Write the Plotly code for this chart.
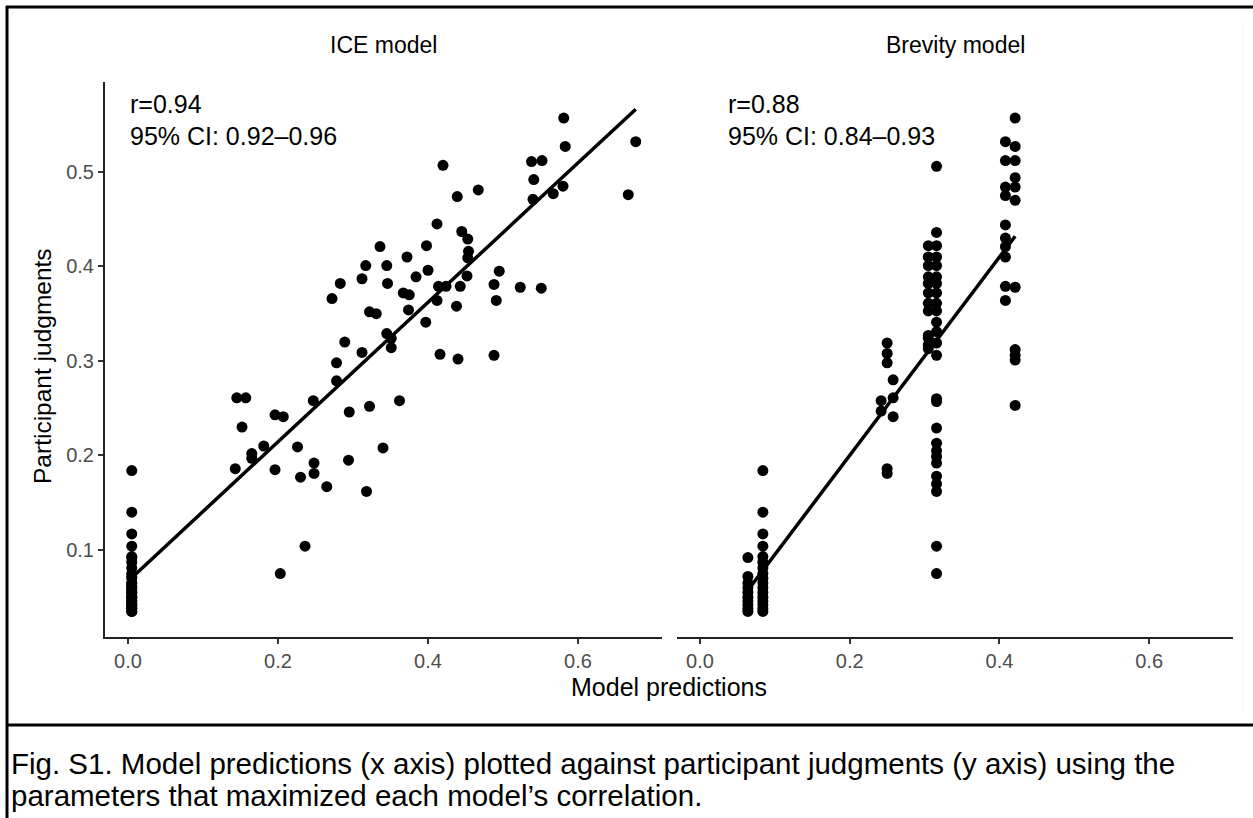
import numpy as np
import plotly.graph_objects as go

# ---------------- data ----------------
# ICE model panel: model predictions (x) and participant judgments (y)
ice_zero_y = [0.184, 0.140, 0.117, 0.104, 0.093, 0.092, 0.087, 0.081, 0.075, 0.072,
              0.070, 0.065, 0.065, 0.062, 0.060, 0.060, 0.057, 0.055, 0.055, 0.052,
              0.050, 0.050, 0.048, 0.046, 0.046, 0.044, 0.042, 0.042, 0.040, 0.038,
              0.038, 0.035, 0.035]
ice_rest_x = [
    0.143, 0.145, 0.157, 0.152, 0.165, 0.165, 0.181, 0.196, 0.196, 0.207,
    0.203, 0.226, 0.230, 0.236, 0.247, 0.248, 0.248, 0.265, 0.278, 0.278,
    0.289, 0.295, 0.294, 0.312, 0.322, 0.318, 0.340, 0.345, 0.351, 0.351,
    0.362, 0.416, 0.440, 0.488, 0.581, 0.677, 0.583, 0.538, 0.552, 0.541,
    0.580, 0.567, 0.540, 0.667, 0.420, 0.439, 0.467, 0.412, 0.445, 0.453,
    0.454, 0.453, 0.452, 0.398, 0.372, 0.345, 0.336, 0.400, 0.384, 0.346,
    0.367, 0.375, 0.414, 0.424, 0.443, 0.412, 0.374, 0.438, 0.397, 0.488,
    0.495, 0.523, 0.551, 0.491, 0.317, 0.283, 0.312, 0.272, 0.322, 0.331,
]
ice_rest_y = [
    0.186, 0.261, 0.261, 0.230, 0.202, 0.197, 0.210, 0.185, 0.243, 0.241,
    0.075, 0.209, 0.177, 0.104, 0.258, 0.192, 0.181, 0.167, 0.298, 0.279,
    0.320, 0.246, 0.195, 0.309, 0.252, 0.162, 0.208, 0.329, 0.324, 0.314,
    0.258, 0.307, 0.302, 0.306, 0.557, 0.532, 0.527, 0.511, 0.512, 0.492,
    0.485, 0.477, 0.471, 0.476, 0.507, 0.474, 0.481, 0.445, 0.437, 0.429,
    0.416, 0.409, 0.390, 0.422, 0.410, 0.401, 0.421, 0.396, 0.389, 0.382,
    0.372, 0.370, 0.379, 0.379, 0.379, 0.364, 0.354, 0.358, 0.341, 0.381,
    0.395, 0.378, 0.377, 0.364, 0.401, 0.382, 0.387, 0.366, 0.352, 0.350,
]
ice_x = [0.005] * len(ice_zero_y) + ice_rest_x
ice_y = ice_zero_y + ice_rest_y

# Brevity model panel
bre_col_a_y = [0.092, 0.072, 0.065, 0.060, 0.055, 0.050, 0.046, 0.042, 0.038, 0.035]
bre_col_b_y = [0.184, 0.140, 0.117, 0.104, 0.093, 0.087, 0.081, 0.075, 0.070,
               0.065, 0.060, 0.055, 0.050, 0.046, 0.042, 0.038, 0.035]
bre_col_c_x = [0.250, 0.250, 0.250, 0.258, 0.242, 0.258, 0.242, 0.258, 0.250, 0.250]
bre_col_c_y = [0.319, 0.308, 0.298, 0.280, 0.258, 0.261, 0.247, 0.241, 0.186, 0.181]
bre_col_d_y = [0.506, 0.436, 0.422, 0.410, 0.401, 0.389, 0.382, 0.372, 0.361, 0.353,
               0.341, 0.331, 0.319, 0.306, 0.260, 0.257, 0.229, 0.213, 0.205, 0.199,
               0.192, 0.178, 0.170, 0.162, 0.104, 0.075]
bre_col_e_y = [0.422, 0.410, 0.401, 0.389, 0.382, 0.372, 0.361, 0.353, 0.327, 0.324,
               0.317, 0.313]
bre_col_f_y = [0.557, 0.527, 0.512, 0.494, 0.484, 0.470, 0.378, 0.312, 0.306, 0.301, 0.253]
bre_col_g_y = [0.532, 0.512, 0.484, 0.475, 0.444, 0.430, 0.421, 0.410, 0.379, 0.364]

bre_x = ([0.064] * len(bre_col_a_y) + [0.084] * len(bre_col_b_y) + bre_col_c_x +
         [0.316] * len(bre_col_d_y) + [0.305] * len(bre_col_e_y) +
         [0.421] * len(bre_col_f_y) + [0.408] * len(bre_col_g_y))
bre_y = (bre_col_a_y + bre_col_b_y + bre_col_c_y + bre_col_d_y + bre_col_e_y +
         bre_col_f_y + bre_col_g_y)

panel_titles = ["ICE model", "Brevity model"]
stats_r = ["r=0.94", "r=0.88"]
stats_ci = ["95% CI: 0.92\u20130.96", "95% CI: 0.84\u20130.93"]
x_ticks = [0.0, 0.2, 0.4, 0.6]
y_ticks = [0.1, 0.2, 0.3, 0.4, 0.5]
caption_lines = [
    "Fig. S1. Model predictions (x axis) plotted against participant judgments (y axis) using the",
    "parameters that maximized each model\u2019s correlation.",
]

# ---------------- figure ----------------
W, H = 1253, 818
FONT = "Liberation Sans, Arial, Helvetica, sans-serif"


def px(x):
    return x / W


def py(y):
    return 1 - y / H


fig = go.Figure()

for xs, ys, xa, ya in [(ice_x, ice_y, "x", "y"), (bre_x, bre_y, "x2", "y2")]:
    fig.add_trace(go.Scatter(
        x=xs, y=ys, mode="markers", xaxis=xa, yaxis=ya,
        marker=dict(color="black", size=11, line=dict(width=0)),
        showlegend=False, hoverinfo="x+y",
    ))
    xarr, yarr = np.array(xs), np.array(ys)
    slope, intercept = np.polyfit(xarr, yarr, 1)
    lx = np.array([xarr.min(), xarr.max()])
    fig.add_trace(go.Scatter(
        x=lx, y=intercept + slope * lx, mode="lines", xaxis=xa, yaxis=ya,
        line=dict(color="black", width=3.5), showlegend=False, hoverinfo="skip",
    ))

x_range = [-0.0307, 0.712]
y_range = [0.0079, 0.5952]
common_x = dict(
    range=x_range, showline=True, linecolor="#222", linewidth=2,
    ticks="outside", ticklen=5, tickwidth=1.5, tickcolor="#333",
    tickvals=x_ticks, tickformat=".1f", showgrid=False, zeroline=False,
    tickfont=dict(family=FONT, size=20, color="#4d4d4d"),
)
fig.update_layout(
    width=W, height=H,
    margin=dict(l=0, r=0, t=0, b=0),
    paper_bgcolor="white", plot_bgcolor="white",
    font=dict(family=FONT, color="black"),
    xaxis=dict(domain=[px(105), px(662)], anchor="y", **common_x),
    xaxis2=dict(domain=[px(677), px(1233)], anchor="y2", **common_x),
    yaxis=dict(
        domain=[py(637), py(82)], anchor="x", range=y_range,
        showline=True, linecolor="#222", linewidth=2,
        ticks="outside", ticklen=5, tickwidth=1.5, tickcolor="#333",
        tickvals=y_ticks, tickformat=".1f", showgrid=False, zeroline=False,
        tickfont=dict(family=FONT, size=20, color="#4d4d4d"),
    ),
    yaxis2=dict(
        domain=[py(637), py(82)], anchor="x2", range=y_range, matches="y",
        showline=False, showticklabels=False, ticks="", showgrid=False, zeroline=False,
    ),
)

annotations = []
# panel titles
for title, cx in zip(panel_titles, [383.5, 955]):
    annotations.append(dict(text=title, x=px(cx), y=py(45), xref="paper", yref="paper",
                            xanchor="center", yanchor="middle", showarrow=False,
                            font=dict(family=FONT, size=23, color="black")))
# correlation stats
for r_txt, ci_txt, lx in zip(stats_r, stats_ci, [128, 726]):
    annotations.append(dict(text=r_txt, x=px(lx), y=py(104), xref="paper", yref="paper",
                            xanchor="left", yanchor="middle", showarrow=False,
                            font=dict(family=FONT, size=25, color="black")))
    annotations.append(dict(text=ci_txt, x=px(lx), y=py(136), xref="paper", yref="paper",
                            xanchor="left", yanchor="middle", showarrow=False,
                            font=dict(family=FONT, size=25, color="black")))
# axis titles
annotations.append(dict(text="Model predictions", x=px(669), y=py(687), xref="paper", yref="paper",
                        xanchor="center", yanchor="middle", showarrow=False,
                        font=dict(family=FONT, size=25, color="black")))
annotations.append(dict(text="Participant judgments", x=px(42), y=py(366), xref="paper", yref="paper",
                        xanchor="center", yanchor="middle", showarrow=False, textangle=-90,
                        font=dict(family=FONT, size=24.5, color="black")))
# caption
for line, cy in zip(caption_lines, [763, 795]):
    annotations.append(dict(text=line, x=px(9), y=py(cy), xref="paper", yref="paper",
                            xanchor="left", yanchor="middle", showarrow=False,
                            font=dict(family=FONT, size=29.5, color="black")))
fig.update_layout(annotations=annotations)

# frame lines of the figure box
shapes = [
    dict(type="line", xref="paper", yref="paper", x0=px(6), x1=1, y0=py(7), y1=py(7),
         line=dict(color="black", width=3)),
    dict(type="line", xref="paper", yref="paper", x0=px(7), x1=px(7), y0=py(6), y1=0,
         line=dict(color="black", width=3)),
    dict(type="line", xref="paper", yref="paper", x0=px(6), x1=1, y0=py(725), y1=py(725),
         line=dict(color="black", width=3)),
    dict(type="line", xref="paper", yref="paper", x0=px(1243), x1=px(1243), y0=py(22), y1=py(710),
         line=dict(color="#f2f2f2", width=1)),
]
fig.update_layout(shapes=shapes)

fig.write_html("out.html", config={"displayModeBar": False},
               post_script="document.body.style.margin='0';")
